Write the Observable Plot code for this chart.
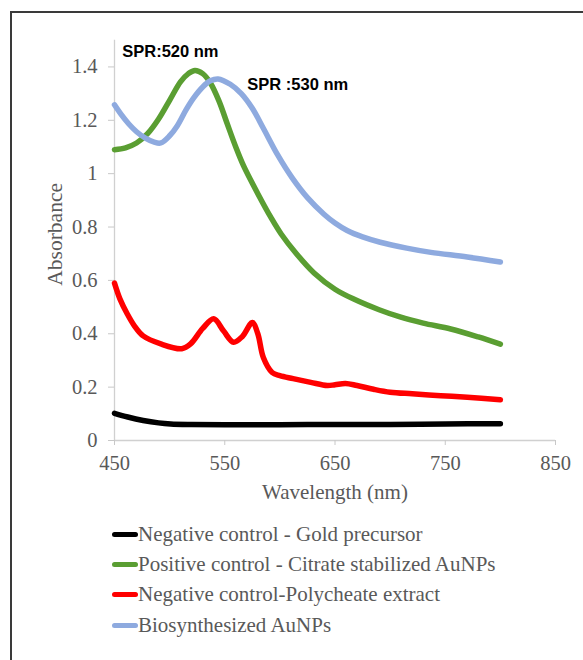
<!DOCTYPE html>
<html>
<head>
<meta charset="utf-8">
<script src="https://cdn.jsdelivr.net/npm/d3@7"></script>
<script src="https://cdn.jsdelivr.net/npm/@observablehq/plot@0.6"></script>
<style>
  html, body { margin: 0; padding: 0; background: #fff; overflow: hidden; }
  #wrap { position: relative; width: 583px; height: 660px; }
  #frame { position: absolute; left: 10px; top: 11px; width: 600px; height: 700px; border: 2px solid #3a3a3a; box-sizing: border-box; }
  #chart { position: absolute; left: 0; top: 0; }
  #legend { position: absolute; left: 112px; top: 519px; font-family: "Liberation Serif", "Times New Roman", serif; font-size: 21px; color: #595959; }
  .row { display: flex; align-items: center; height: 30.3px; }
  .sw { width: 26px; height: 5px; border-radius: 3px; }
</style>
</head>
<body>
<div id="wrap">
  <div id="frame"></div>
  <div id="chart"></div>
  <div id="legend"></div>
</div>
<script>
// ---- data ----
const seriesNames = [
  "Negative control - Gold precursor",
  "Positive control - Citrate stabilized AuNPs",
  "Negative control-Polycheate extract",
  "Biosynthesized AuNPs"
];
const seriesColors = ["#000000", "#5a9e32", "#ff0000", "#8eaadf"];

const goldWl = [450, 462, 476, 490, 501, 520, 550, 600, 650, 700, 750, 800];
const goldAbs = [0.102, 0.088, 0.075, 0.066, 0.062, 0.060, 0.059, 0.059, 0.060, 0.060, 0.062, 0.063];

const citrateWl = [450, 460, 470, 480, 490, 500, 510, 517, 523, 530, 537, 545, 552, 560, 567, 580, 592, 601, 615, 631, 650, 667, 690, 709, 730, 755, 780, 800];
const citrateAbs = [1.09, 1.097, 1.115, 1.15, 1.205, 1.275, 1.345, 1.375, 1.387, 1.375, 1.34, 1.27, 1.19, 1.10, 1.03, 0.925, 0.835, 0.775, 0.70, 0.628, 0.567, 0.53, 0.49, 0.463, 0.44, 0.418, 0.388, 0.361];

const extractWl = [450, 455, 461.5, 468, 476, 492, 511, 519, 530, 540, 549, 558, 566, 575, 580, 585, 593, 600, 612, 628, 643, 650, 659.5, 670, 685, 700, 720, 746, 770, 800];
const extractAbs = [0.59, 0.53, 0.475, 0.43, 0.392, 0.362, 0.344, 0.362, 0.42, 0.456, 0.41, 0.368, 0.39, 0.442, 0.40, 0.311, 0.255, 0.243, 0.232, 0.218, 0.206, 0.209, 0.214, 0.206, 0.192, 0.181, 0.175, 0.168, 0.162, 0.153];

const bioWl = [450, 456, 463, 470, 478, 486, 492, 500, 507, 515, 522, 530, 537, 544, 555, 565, 575, 585, 598, 611, 625, 640, 650, 661, 675, 691, 715, 737, 770, 800];
const bioAbs = [1.258, 1.222, 1.186, 1.157, 1.133, 1.118, 1.115, 1.142, 1.18, 1.24, 1.285, 1.325, 1.348, 1.355, 1.335, 1.30, 1.245, 1.17, 1.07, 0.985, 0.91, 0.848, 0.815, 0.787, 0.763, 0.743, 0.721, 0.705, 0.688, 0.669];

const xTicks = [450, 550, 650, 750, 850];
const yTicks = [0, 0.2, 0.4, 0.6, 0.8, 1, 1.2, 1.4];
const xLabel = "Wavelength (nm)";
const yLabel = "Absorbance";

const annText = ["SPR:520 nm", "SPR :530 nm"];
const annWl = [457, 570.5];
const annAbs = [1.439, 1.312];

// ---- build ----
const seriesWl = [goldWl, citrateWl, extractWl, bioWl];
const seriesAbs = [goldAbs, citrateAbs, extractAbs, bioAbs];
const rows = [];
seriesNames.forEach((name, i) => {
  seriesWl[i].forEach((w, j) => rows.push({series: name, wl: w, abs: seriesAbs[i][j]}));
});
const ann = annText.map((t, i) => ({t, wl: annWl[i], abs: annAbs[i]}));

const grey = "#595959";
const chart = Plot.plot({
  width: 583,
  height: 510,
  marginLeft: 114,
  marginRight: 28,
  marginTop: 39.75,
  marginBottom: 70,
  style: {fontFamily: "'Liberation Serif', 'Times New Roman', serif", fontSize: "20px", background: "transparent", overflow: "visible"},
  x: {domain: [450, 850]},
  y: {domain: [0, 1.5]},
  color: {domain: seriesNames, range: seriesColors},
  marks: [
    Plot.ruleY([0], {stroke: "#d0d0d0", strokeWidth: 1.3}),
    Plot.ruleX([450], {stroke: "#d0d0d0", strokeWidth: 1.3}),
    Plot.axisX({ticks: xTicks, tickSize: 5, tickPadding: 10, stroke: "#c8c8c8", fill: grey, label: null, tickFormat: d => String(d), fontSize: 20.5}),
    Plot.axisY({ticks: yTicks, tickSize: 6, tickPadding: 11, stroke: "#c8c8c8", fill: grey, label: null, tickFormat: d => String(+d.toFixed(1)), fontSize: 20.5}),
    Plot.text([xLabel], {frameAnchor: "bottom", dy: 52, lineAnchor: "middle", textAnchor: "middle", fill: grey, fontSize: 21}),
    Plot.text([yLabel], {frameAnchor: "left", rotate: -90, dx: -59, dy: -6, lineAnchor: "middle", textAnchor: "middle", fill: grey, fontSize: 21.5}),
    Plot.line(rows, {x: "wl", y: "abs", z: "series", stroke: "series", strokeWidth: 5.5, curve: "catmull-rom", strokeLinecap: "round", strokeLinejoin: "round"}),
    Plot.text(ann, {x: "wl", y: "abs", text: "t", textAnchor: "start", lineAnchor: "bottom", fontFamily: "'Liberation Sans', Arial, sans-serif", fontWeight: "bold", fontSize: 16.5, fill: "#000"})
  ]
});
document.getElementById("chart").appendChild(chart);

const legend = document.getElementById("legend");
seriesNames.forEach((name, i) => {
  const row = document.createElement("div");
  row.className = "row";
  const sw = document.createElement("div");
  sw.className = "sw";
  sw.style.background = seriesColors[i];
  const tx = document.createElement("span");
  tx.textContent = name;
  row.appendChild(sw);
  row.appendChild(tx);
  legend.appendChild(row);
});
</script>
</body>
</html>
